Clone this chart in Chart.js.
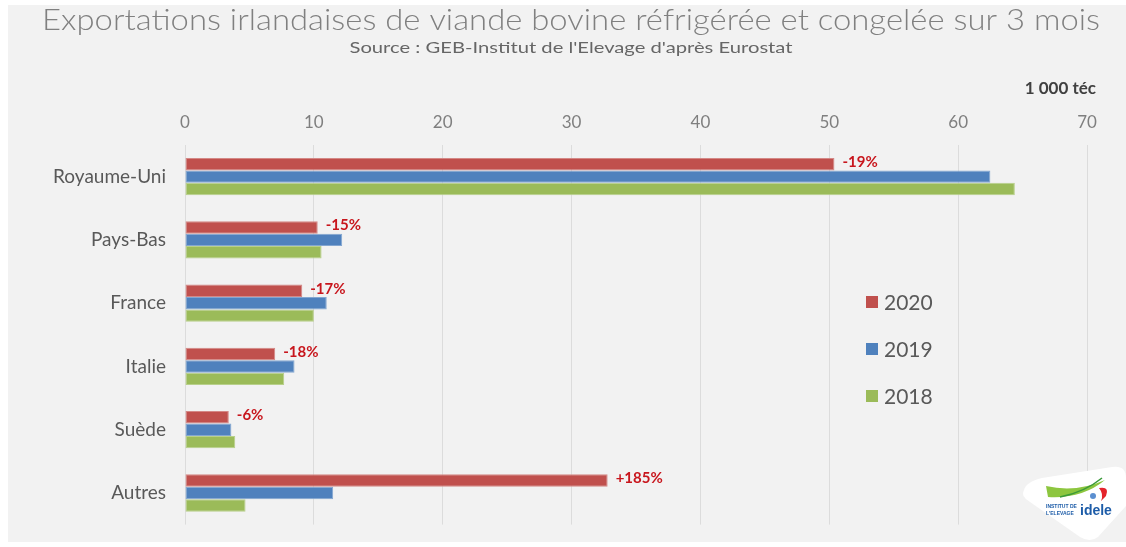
<!DOCTYPE html>
<html lang="fr">
<head>
<meta charset="utf-8">
<title>Exportations irlandaises de viande bovine</title>
<script src="https://cdn.jsdelivr.net/npm/chart.js@4.4.1/dist/chart.umd.min.js"></script>
<style>
    html, body { margin: 0; padding: 0; background: #ffffff; }
    #wrap { position: relative; width: 1126px; height: 547px; }
</style>
</head>
<body>
<div id="wrap"><canvas id="chart"></canvas></div>
<script>
// data (1 000 téc)
const categories = ['Royaume-Uni', 'Pays-Bas', 'France', 'Italie', 'Suède', 'Autres'];
const years = ['2020', '2019', '2018'];
const values2020 = [50.4, 10.3, 9.1, 7.0, 3.4, 32.8];
const values2019 = [62.5, 12.2, 11.0, 8.5, 3.6, 11.5];
const values2018 = [64.4, 10.6, 10.0, 7.7, 3.9, 4.7];
const evolution = ['-19%', '-15%', '-17%', '-18%', '-6%', '+185%'];
const xTicks = [0, 10, 20, 30, 40, 50, 60, 70];

const title = 'Exportations irlandaises de viande bovine réfrigérée et congelée sur 3 mois';
const subtitle = "Source : GEB-Institut de l'Elevage d'après Eurostat";
const unit = '1 000 téc';

const colors = ['#c0504d', '#4f81bd', '#9bbb59'];
const borders = ['#d48886', '#83a6d1', '#b8d08a'];
const FONT = 'Lato, "Open Sans", sans-serif';

// draws text squeezed/stretched to a given width
function drawFitted(ctx, text, cx, cy, width, font, color) {
    ctx.save();
    ctx.font = font;
    ctx.fillStyle = color;
    ctx.textAlign = 'center';
    ctx.textBaseline = 'middle';
    const w = ctx.measureText(text).width;
    const k = width / w;
    ctx.translate(cx, cy);
    ctx.scale(k, 1);
    ctx.fillText(text, 0, 0);
    ctx.restore();
}

const panelPlugin = {
    id: 'panel',
    beforeDraw(chart) {
        const ctx = chart.ctx;
        ctx.save();
        ctx.fillStyle = '#f2f2f2';
        ctx.fillRect(8, 5, 1118, 537);
        ctx.restore();
    }
};

const textPlugin = {
    id: 'texts',
    afterDraw(chart) {
        const ctx = chart.ctx;
        drawFitted(ctx, title, 571, 20, 1058, '300 30px ' + FONT, '#808080');
        drawFitted(ctx, subtitle, 571, 48, 443, '15px ' + FONT, '#666666');

        ctx.save();
        ctx.font = 'bold 17px ' + FONT;
        ctx.fillStyle = '#404040';
        ctx.textAlign = 'right';
        ctx.textBaseline = 'middle';
        ctx.fillText(unit, 1096, 89);
        ctx.restore();

        // evolution labels next to the 2020 bars
        const meta = chart.getDatasetMeta(0);
        ctx.save();
        ctx.font = 'bold 15px ' + FONT;
        ctx.fillStyle = '#c8161d';
        ctx.textAlign = 'left';
        ctx.textBaseline = 'middle';
        meta.data.forEach((bar, i) => {
            ctx.fillText(evolution[i], bar.x + 8, bar.y - 2);
        });
        ctx.restore();

        // legend
        ctx.save();
        ctx.font = '21px ' + FONT;
        ctx.textBaseline = 'middle';
        ctx.textAlign = 'left';
        chart.data.datasets.forEach((ds, i) => {
            const y = 302 + i * 47;
            ctx.fillStyle = ds.backgroundColor;
            ctx.fillRect(866, y - 6, 12, 12);
            ctx.fillStyle = '#595959';
            ctx.fillText(ds.label, 884, y + 1);
        });
        ctx.restore();

        drawLogo(ctx);
    }
};

function drawLogo(ctx) {
    ctx.save();
    ctx.fillStyle = '#ffffff';
    ctx.beginPath();
    ctx.moveTo(1024, 490);
    ctx.quadraticCurveTo(1026, 482, 1042, 478);
    ctx.lineTo(1112, 467);
    ctx.quadraticCurveTo(1126, 465, 1126, 478);
    ctx.lineTo(1126, 506);
    ctx.lineTo(1098, 537);
    ctx.quadraticCurveTo(1090, 543, 1080, 537);
    ctx.lineTo(1030, 502);
    ctx.quadraticCurveTo(1020, 496, 1024, 490);
    ctx.closePath();
    ctx.fill();

    // green swoosh
    ctx.fillStyle = '#8dc63f';
    ctx.beginPath();
    ctx.moveTo(1046, 486);
    ctx.quadraticCurveTo(1076, 493, 1105, 480);
    ctx.quadraticCurveTo(1082, 499, 1048, 497);
    ctx.closePath();
    ctx.fill();
    ctx.strokeStyle = '#3a9a3a';
    ctx.lineWidth = 1.5;
    ctx.beginPath();
    ctx.moveTo(1060, 497);
    ctx.quadraticCurveTo(1085, 492, 1102, 478);
    ctx.stroke();

    // red and blue marks
    ctx.fillStyle = '#e4232b';
    ctx.beginPath();
    ctx.moveTo(1099, 488);
    ctx.quadraticCurveTo(1110, 486, 1106, 496);
    ctx.lineTo(1101, 501);
    ctx.quadraticCurveTo(1104, 494, 1099, 488);
    ctx.fill();
    ctx.fillStyle = '#5b8fd0';
    ctx.beginPath();
    ctx.arc(1093, 496, 3, 0, Math.PI * 2);
    ctx.fill();

    ctx.fillStyle = '#1d5ca8';
    ctx.textBaseline = 'middle';
    ctx.textAlign = 'left';
    ctx.font = 'bold 14px "Liberation Sans", sans-serif';
    ctx.fillText('idele', 1080, 511);
    ctx.font = 'bold 5px "Liberation Sans", sans-serif';
    ctx.fillText('INSTITUT DE', 1046, 507);
    ctx.fillText("L'ELEVAGE", 1046, 514);
    ctx.restore();
}

const ctx = document.getElementById('chart').getContext('2d');
new Chart(ctx, {
    type: 'bar',
    data: {
        labels: categories,
        datasets: [
            { label: years[0], data: values2020, backgroundColor: colors[0], borderColor: borders[0] },
            { label: years[1], data: values2019, backgroundColor: colors[1], borderColor: borders[1] },
            { label: years[2], data: values2018, backgroundColor: colors[2], borderColor: borders[2] }
        ]
    },
    options: {
        indexAxis: 'y',
        responsive: true,
        maintainAspectRatio: false,
        animation: false,
        datasets: {
            bar: {
                barPercentage: 1,
                categoryPercentage: 0.59,
                borderWidth: 1,
                borderSkipped: false
            }
        },
        layout: { padding: { left: 0, right: 39, top: 0, bottom: 11 } },
        plugins: {
            legend: { display: false },
            title: { display: false },
            tooltip: { enabled: false }
        },
        scales: {
            x: {
                position: 'top',
                min: 0,
                max: 70,
                afterBuildTicks: (scale) => {
                    scale.ticks = xTicks.map(v => ({ value: v }));
                },
                afterFit: (scale) => { scale.height = 145; },
                ticks: {
                    color: '#7f7f7f',
                    font: { family: FONT, size: 17 },
                    padding: 12
                },
                grid: { color: '#dcdcdc', lineWidth: 1, drawTicks: false },
                border: { display: false }
            },
            y: {
                afterFit: (scale) => { scale.width = 185; },
                ticks: {
                    color: '#595959',
                    font: { family: FONT, size: 19 },
                    padding: 11
                },
                grid: { display: false },
                border: { display: false }
            }
        }
    },
    plugins: [panelPlugin, textPlugin]
});
</script>
</body>
</html>
